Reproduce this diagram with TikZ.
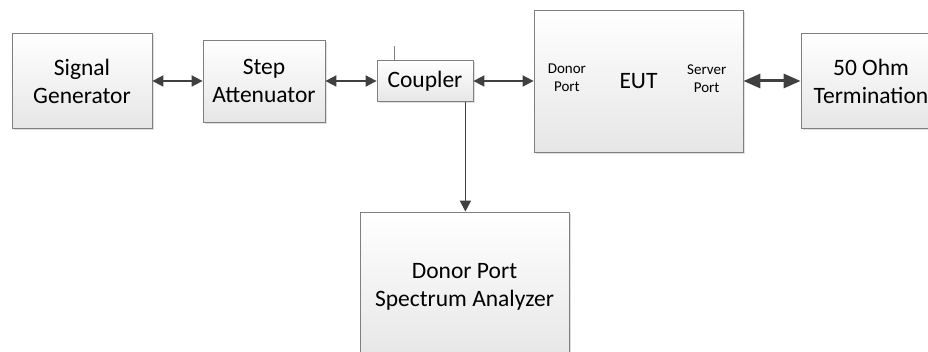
\documentclass[tikz,border=0pt]{standalone}
\usepackage{fontspec}
\setmainfont{Carlito}
\usetikzlibrary{arrows.meta,positioning,shadows}

\definecolor{boxline}{HTML}{7F7F7F}
\definecolor{arrowgray}{HTML}{404040}
\definecolor{boxbottom}{HTML}{E6E6E6}

\tikzset{
  block/.style={draw=boxline, line width=0.8pt, rectangle, align=center,
    top color=white, bottom color=boxbottom,
    drop shadow={opacity=0.25, shadow xshift=2pt, shadow yshift=-2pt},
    font=\fontsize{23.5}{28}\selectfont, inner sep=0pt},
  port/.style={align=center, font=\fontsize{15}{18}\selectfont, inner sep=0pt},
  link/.style={arrowgray, line width=1.8pt,
    {Triangle[length=11pt,width=11pt]}-{Triangle[length=11pt,width=11pt]}},
  heavylink/.style={arrowgray, line width=3pt,
    {Triangle[length=17pt,width=14pt]}-{Triangle[length=17pt,width=14pt]}},
  feed/.style={arrowgray, line width=1.8pt, -{Triangle[length=11pt,width=11pt]}}
}

\begin{document}
\begin{tikzpicture}[x=1pt,y=-1pt]
	\useasboundingbox (0,0) rectangle (928,352);
	\clip (0,0) rectangle (928,352);
	
	\node[block, minimum width=140pt, minimum height=95pt] (gen) at (82,81) {Signal\\Generator};
	\node[block, minimum width=122pt, minimum height=82pt] (att) at (264,81) {Step\\Attenuator};
	\node[block, minimum width=96pt, minimum height=41pt] (cpl) at (425,81) {Coupler};
	\node[block, minimum width=209pt, minimum height=142pt] (eut) at (638.5,81) {EUT};
	\node[block, minimum width=140pt, minimum height=95pt, xshift=-4pt] (term) at (875,81) {50 Ohm\\Termination};
	\node[block, minimum width=209pt, minimum height=150pt] (sa) at (464.5,287) {Donor Port\\Spectrum Analyzer};
	
	\node[port, right=14pt of eut.west, yshift=3pt] (donor) {Donor\\Port};
	\node[port, left=17pt of eut.east, yshift=2pt] (server) {Server\\Port};
	
	% coupled port and tap
	\coordinate (tap) at ([xshift=-8pt]cpl.south east);
	\coordinate (stub) at ([xshift=18pt]cpl.north west);
	\draw[boxline, line width=0.8pt] (stub) -- ++(0,-14);
	
	\draw[link] (gen) -- (att);
	\draw[link] (att) -- (cpl);
	\draw[link] (cpl) -- (eut);
	\draw[heavylink] (eut) -- (term);
	\draw[feed] (tap) -- (tap |- sa.north);
\end{tikzpicture}
\end{document}
